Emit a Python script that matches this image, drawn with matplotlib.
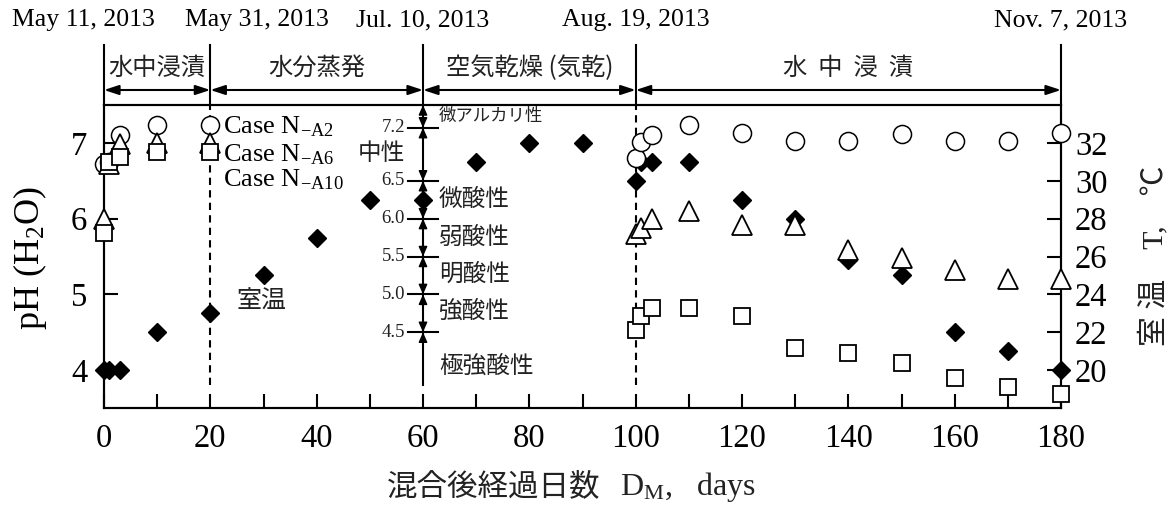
import numpy as np
import matplotlib.pyplot as plt
import matplotlib as mpl

mpl.rcParams['font.family'] = ['Liberation Serif', 'Noto Sans CJK JP']
mpl.rcParams['mathtext.fontset'] = 'custom'
mpl.rcParams['mathtext.rm'] = 'Liberation Serif'
mpl.rcParams['mathtext.it'] = 'Liberation Serif:italic'
mpl.rcParams['axes.unicode_minus'] = False
cjk = ['Noto Sans CJK JP']

## pH(H2O) of the three mixes
ph_days = [0, 1, 3, 10, 20, 100, 101, 103, 110, 120, 130, 140, 150, 160, 170, 180]
ph_a2 = [6.72, 6.75, 7.11, 7.23, 7.23, 6.80, 7.01, 7.11, 7.23, 7.13, 7.02, 7.02, 7.12, 7.02, 7.02, 7.13]
ph_a6 = [6.00, 6.72, 6.98, 7.00, 7.00, 5.80, 5.88, 5.99, 6.10, 5.92, 5.92, 5.59, 5.48, 5.32, 5.20, 5.20]
ph_a10 = [5.81, 6.75, 6.82, 6.88, 6.88, 4.53, 4.72, 4.82, 4.82, 4.72, 4.29, 4.23, 4.10, 3.89, 3.78, 3.68]

## room temperature
t_days = [0, 1, 3, 10, 20, 30, 40, 50, 60, 70, 80, 90, 100, 101, 103, 110, 120, 130, 140, 150, 160, 170, 180]
t_room = [20, 20, 20, 22, 23, 25, 27, 29, 29, 31, 32, 32, 30, 31, 31, 31, 29, 28, 25.8, 25, 22, 21, 20]

## curing stages
stage_edges = [0, 20, 60, 100, 180]
stage_names = ['水中浸漬', '水分蒸発', '空気乾燥 (気乾)', '水  中  浸  漬']
date_labels = ['May 11, 2013', 'May 31, 2013', 'Jul. 10, 2013', 'Aug. 19, 2013', 'Nov. 7, 2013']
date_x = [-17.3, 15.2, 60, 100, 180]
date_ha = ['left', 'left', 'center', 'center', 'center']

## soil acidity classes
class_bounds = [7.2, 6.5, 6.0, 5.5, 5.0, 4.5]
class_names = ['微アルカリ性', '中性', '微酸性', '弱酸性', '明酸性', '強酸性', '極強酸性']
class_y = [7.35, 6.86, 6.25, 5.75, 5.26, 4.78, 4.05]

case_names = [r'Case N$_{-\rm A2}$', r'Case N$_{-\rm A6}$', r'Case N$_{-\rm A10}$']
case_y = [7.13, 6.76, 6.42]

lw = 1.5
fig = plt.figure(figsize=(11.7, 5.11), dpi=100)
ax = fig.add_axes([104/1170, 1-408/511, 957/1170, 303/511])
ax2 = ax.twinx()
ax.set_zorder(ax2.get_zorder()+1)
ax.patch.set_visible(False)

ax.set_xlim(0, 180)
ax.set_ylim(3.5, 7.5)
ax2.set_ylim(18, 34)

## series
ax2.plot(t_days, t_room, 'D', ms=9, color='k', clip_on=False, zorder=3)
ax.plot(ph_days, ph_a2, 'o', ms=13, mfc='white', mec='k', mew=1.1, clip_on=False, zorder=3)
ax.plot(ph_days, ph_a6, '^', ms=14, mfc='white', mec='k', mew=1.3, clip_on=False, zorder=4)
ax.plot(ph_days, ph_a10, 's', ms=11.5, mfc='white', mec='k', mew=1.3, clip_on=False, zorder=5)

## ticks and spines
for a in (ax, ax2):
    for s in a.spines.values():
        s.set_linewidth(lw)
ax.set_xticks(np.arange(0, 181, 20))
ax.set_xticks(np.arange(0, 181, 10), minor=True)
ax.set_yticks([4, 5, 6, 7])
ax.set_yticks([], minor=True)
ax2.set_yticks(np.arange(20, 33, 2))
ax.tick_params(axis='both', which='both', direction='in', length=10, width=lw, labelsize=23.5, top=False)
ax.tick_params(axis='x', pad=11)
ax.tick_params(axis='y', pad=12)
ax2.tick_params(axis='y', direction='in', length=10, width=lw, labelsize=23.5, pad=10)

## header: dates, stages, arrows
y_top = 8.29
y_arrow = 7.698
y_stage = 7.988
y_date = 8.62
for xe in stage_edges:
    ax.plot([xe, xe], [7.5, y_top], color='k', lw=lw, clip_on=False)
for i in range(len(stage_names)):
    x0, x1 = stage_edges[i], stage_edges[i+1]
    ax.annotate('', xy=(x1, y_arrow), xytext=(x0, y_arrow), annotation_clip=False,
                arrowprops=dict(arrowstyle='<|-|>,head_length=0.55,head_width=0.18', color='k',
                                lw=lw, shrinkA=0, shrinkB=0, mutation_scale=16))
    ax.text((x0+x1)/2.0, y_stage, stage_names[i], ha='center', va='center', fontsize=17.5,
            family=cjk, color='#222222', clip_on=False)
for lab, xd, ha in zip(date_labels, date_x, date_ha):
    ax.text(xd, y_date, lab, ha=ha, va='center', fontsize=18.5, clip_on=False)

## dashed boundaries
for xe in (20, 100):
    ax.plot([xe, xe], [3.8, 7.5], color='k', lw=lw, dashes=(3.5, 2.5), zorder=1)

## acidity scale on day 60
ax.plot([60, 60], [3.8, 7.5], color='k', lw=lw, zorder=1)
levels = [7.5] + class_bounds
for i in range(len(levels)-1):
    ax.annotate('', xy=(60, levels[i+1]), xytext=(60, levels[i]),
                arrowprops=dict(arrowstyle='<|-|>,head_length=0.5,head_width=0.22', color='k',
                                lw=1.0, shrinkA=0, shrinkB=0, mutation_scale=12))
ax.annotate('', xy=(60, class_bounds[-1]), xytext=(60, 3.8),
            arrowprops=dict(arrowstyle='-|>,head_length=0.5,head_width=0.22', color='k',
                            lw=1.0, shrinkA=0, shrinkB=0, mutation_scale=12))
for b in class_bounds:
    ax.plot([57.2, 62.8], [b, b], color='k', lw=lw, zorder=2)
    ax.text(56.6, b, '%.1f' % b, ha='right', va='center', fontsize=13.5, color='#222222')
for name, yc in zip(class_names, class_y):
    if name == '中性':
        ax.text(56.6, yc, name, ha='right', va='center', fontsize=17, family=cjk, color='#222222')
    elif name == '微アルカリ性':
        ax.text(63.0, yc, name, ha='left', va='center', fontsize=12.5, family=cjk, color='#222222')
    else:
        ax.text(63.0, yc, name, ha='left', va='center', fontsize=17, family=cjk, color='#222222')

## series labels
for name, yc in zip(case_names, case_y):
    ax.text(22.4, yc, name, ha='left', va='baseline', fontsize=19)
ax.text(29.7, 4.90, '室温', ha='center', va='center', fontsize=18, family=cjk, color='#222222')

## axis titles
fig.text(30/1170, 1-258/511, 'pH (H$_{\\rm 2}$O)', rotation=90, ha='center', va='center', fontsize=26)
fig.text(1153/1170, 1-256/511, '室 温　T,　℃', rotation=90, ha='center', va='center', fontsize=21.5,
         family=['Liberation Serif', 'Noto Sans CJK JP'], color='#222222')
fig.text(600/1170, 1-487/511, '混合後経過日数', ha='right', va='center', fontsize=22,
         family=cjk, color='#222222')
fig.text(620/1170, 1-487/511, 'D$_{\\rm M}$,   days', ha='left', va='center', fontsize=23,
         color='#222222')

fig.savefig('out.png', dpi=100)
